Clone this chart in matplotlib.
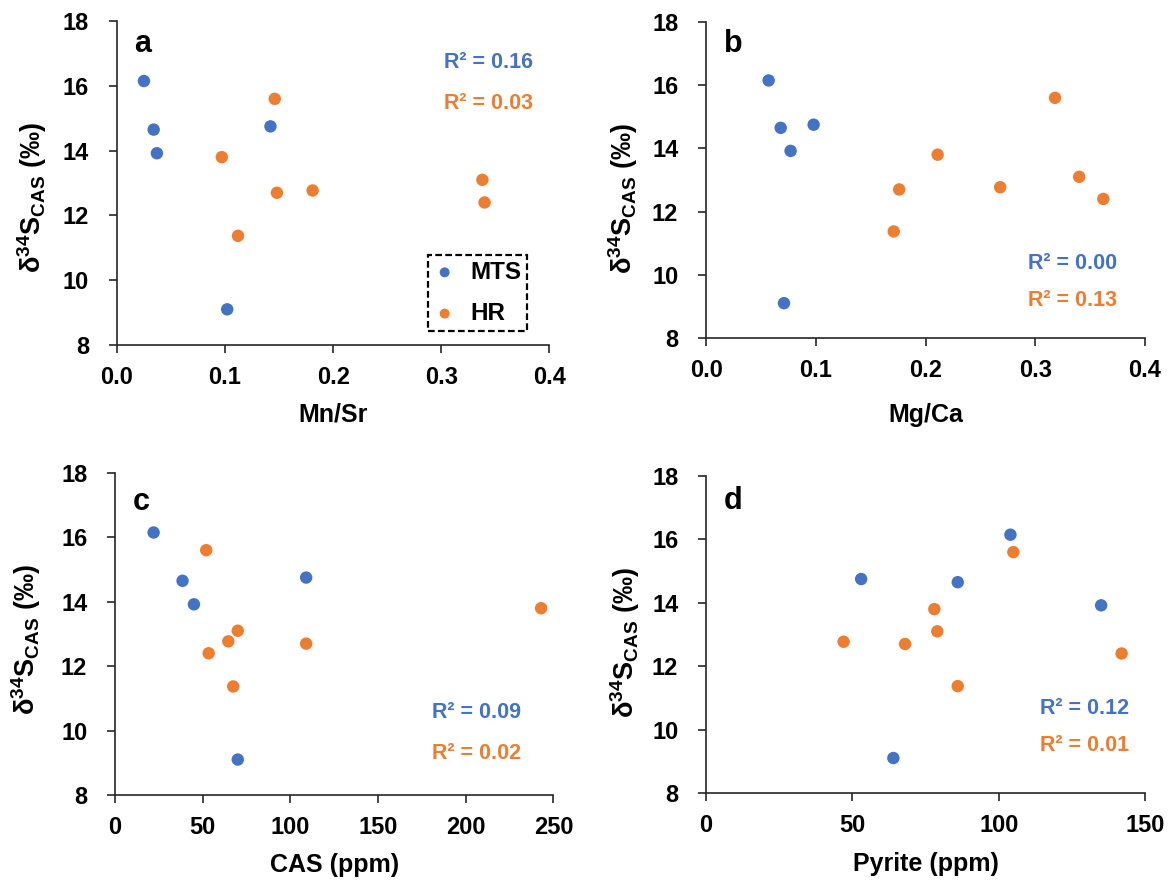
import matplotlib
matplotlib.use('Agg')
import matplotlib.pyplot as plt

plt.rcParams['font.family'] = ['Liberation Sans', 'DejaVu Sans']
plt.rcParams['font.weight'] = 'bold'
plt.rcParams['mathtext.fontset'] = 'custom'
plt.rcParams['mathtext.rm'] = 'Liberation Sans:bold'
plt.rcParams['mathtext.it'] = 'Liberation Sans:bold'
plt.rcParams['mathtext.bf'] = 'Liberation Sans:bold'

blue = '#4472C4'
orange = '#ED7D31'

# d34S of CAS (permil)
mts_d34s = [16.15, 14.65, 13.92, 14.75, 9.10]
hr_d34s = [15.60, 13.80, 12.70, 12.77, 13.10, 12.40, 11.37]

# panel a: Mn/Sr
mts_mnsr = [0.025, 0.034, 0.037, 0.142, 0.102]
hr_mnsr = [0.146, 0.097, 0.148, 0.181, 0.338, 0.340, 0.112]

# panel b: Mg/Ca
mts_mgca = [0.057, 0.068, 0.077, 0.098, 0.071]
hr_mgca = [0.318, 0.211, 0.176, 0.268, 0.340, 0.362, 0.171]

# panel c: CAS (ppm)
mts_cas = [22, 38.5, 45, 109, 70]
hr_cas = [52, 243, 109, 64.6, 70, 53.4, 67.4]

# panel d: pyrite (ppm)
mts_pyr = [104, 86, 135, 53, 64]
hr_pyr = [105, 78, 68, 47, 79, 142, 86]

r2_labels = {
    'a': ('R² = 0.16', 'R² = 0.03'),
    'b': ('R² = 0.00', 'R² = 0.13'),
    'c': ('R² = 0.09', 'R² = 0.02'),
    'd': ('R² = 0.12', 'R² = 0.01'),
}

fig = plt.figure(figsize=(11.69, 8.80), dpi=100)

panels = [
    # letter, rect, mts x, hr x, xlim, xticks, xticklabels, xlabel, xlabelpad,
    # r2 pos (x, y1, y2), letter y, ylabel coords
    ('a', [0.100, 0.608, 0.370, 0.368], mts_mnsr, hr_mnsr, (0, 0.4),
     [0, 0.1, 0.2, 0.3, 0.4], ['0.0', '0.1', '0.2', '0.3', '0.4'], 'Mn/Sr', 10,
     (0.963, 0.873, 0.747), 0.93, (-0.157, 0.454)),
    ('b', [0.604, 0.616, 0.3755, 0.359], mts_mgca, hr_mgca, (0, 0.4),
     [0, 0.1, 0.2, 0.3, 0.4], ['0.0', '0.1', '0.2', '0.3', '0.4'], 'Mg/Ca', 15,
     (0.936, 0.237, 0.12), 0.93, (-0.150, 0.44)),
    ('c', [0.0984, 0.0966, 0.375, 0.366], mts_cas, hr_cas, (0, 250),
     [0, 50, 100, 150, 200, 250], None, 'CAS (ppm)', 10,
     (0.927, 0.255, 0.13), 0.91, (-0.164, 0.484)),
    ('d', [0.604, 0.099, 0.3755, 0.360], mts_pyr, hr_pyr, (0, 150),
     [0, 50, 100, 150], None, 'Pyrite (ppm)', 11,
     (0.963, 0.265, 0.151), 0.92, (-0.146, 0.476)),
]

for letter, rect, mx, hx, xlim, xticks, xtl, xlabel, xlp, r2pos, ly, ylc in panels:
    ax = fig.add_axes(rect)
    ax.scatter(mx, mts_d34s, s=80, color=blue, edgecolors='none', label='MTS', zorder=3)
    ax.scatter(hx, hr_d34s, s=80, color=orange, edgecolors='none', label='HR', zorder=3)
    ax.set_xlim(xlim)
    ax.set_ylim(8, 18)
    ax.set_xticks(xticks)
    if xtl is not None:
        ax.set_xticklabels(xtl)
    ax.set_yticks([8, 10, 12, 14, 16, 18])
    for s in ['top', 'right']:
        ax.spines[s].set_visible(False)
    for s in ['left', 'bottom']:
        ax.spines[s].set_color('#262626')
        ax.spines[s].set_linewidth(1.2)
    ax.tick_params(axis='both', direction='out', length=6, width=1.2,
                   color='#262626', labelsize=17)
    ax.tick_params(axis='y', pad=14)
    ax.tick_params(axis='x', pad=9)
    ax.set_xlabel(xlabel, fontsize=18, fontweight='bold', labelpad=xlp)
    ax.set_ylabel(r'δ$^{34}$S$_{\mathrm{CAS}}$ (‰)', fontsize=19.5, fontweight='bold')
    ax.yaxis.set_label_coords(ylc[0], ylc[1])

    ax.text(0.04, ly, letter, transform=ax.transAxes, fontsize=22,
            fontweight='bold', va='center', ha='left')
    r2a, r2b = r2_labels[letter]
    ax.text(r2pos[0], r2pos[1], r2a, transform=ax.transAxes, color=blue,
            fontsize=15.5, fontweight='bold', ha='right', va='center')
    ax.text(r2pos[0], r2pos[2], r2b, transform=ax.transAxes, color=orange,
            fontsize=15.5, fontweight='bold', ha='right', va='center')

    if letter == 'a':
        leg = ax.legend(loc='lower right', bbox_to_anchor=(0.949, 0.043),
                        borderaxespad=0, fontsize=17.5, fancybox=False,
                        handlelength=0.9, handletextpad=0.6, labelspacing=0.75,
                        borderpad=0.25, scatterpoints=1, markerscale=0.8)
        frame = leg.get_frame()
        frame.set_edgecolor('black')
        frame.set_linestyle((0, (3, 1.5)))
        frame.set_linewidth(1.6)
        frame.set_facecolor('white')
        frame.set_alpha(1)

fig.savefig('out.png', dpi=100)
